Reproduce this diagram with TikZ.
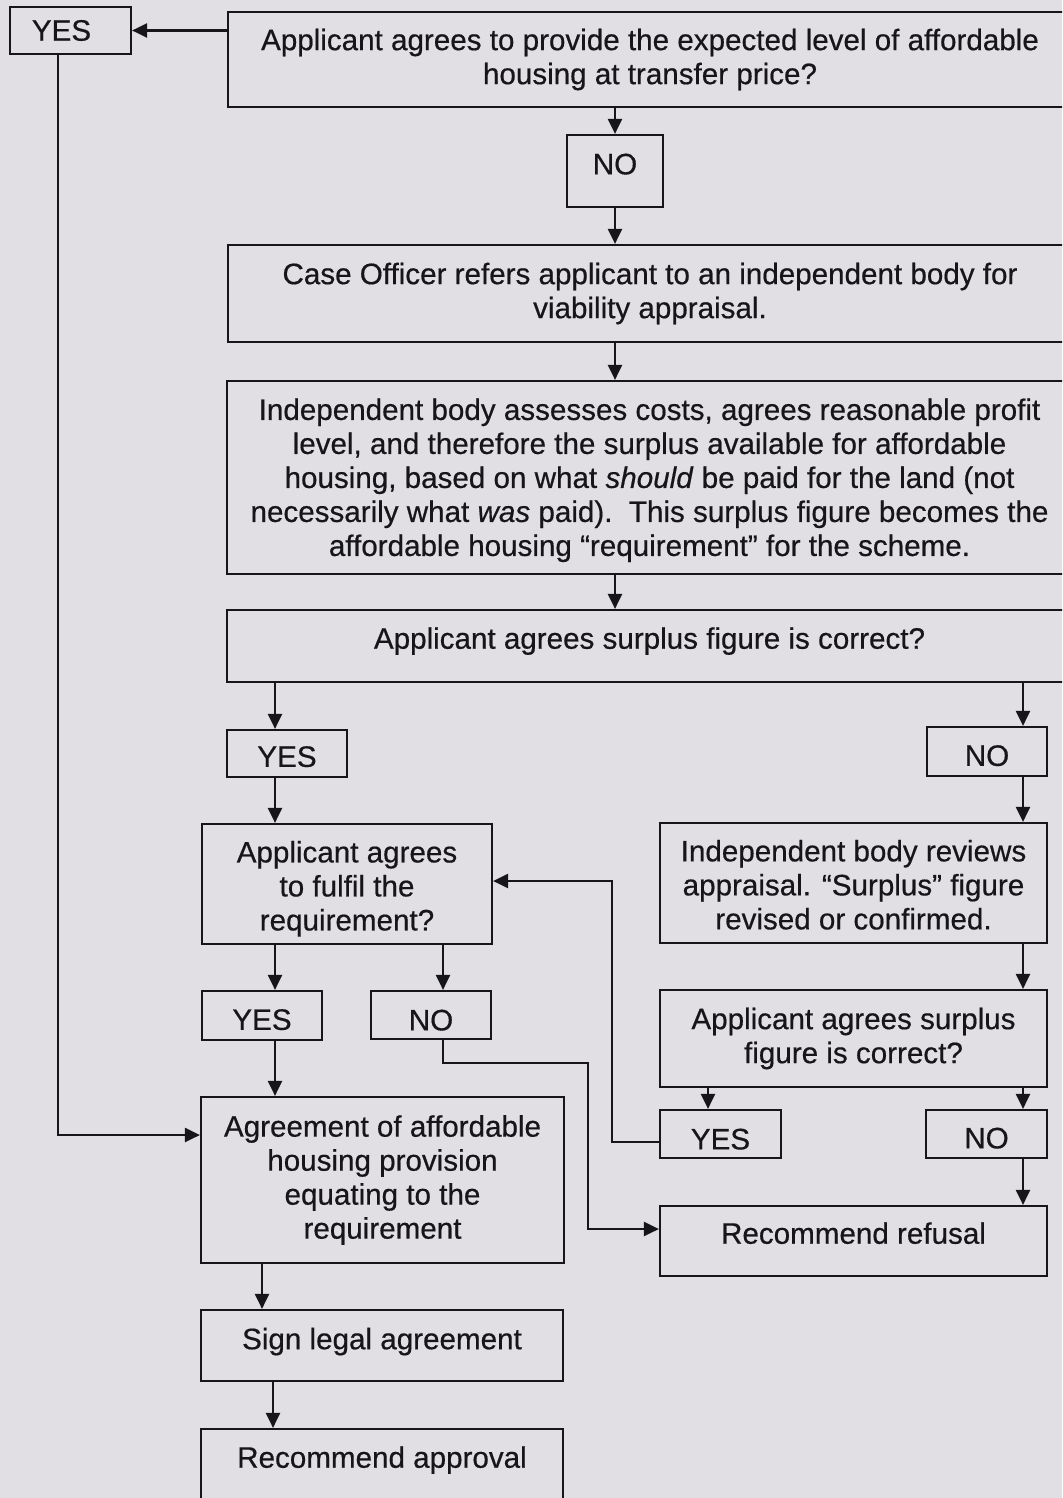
\documentclass[tikz,border=0pt]{standalone}
\usepackage{fontspec}
\setmainfont{Liberation Sans}[FakeBold=0.5]
\usetikzlibrary{arrows.meta}
\definecolor{bg}{RGB}{225,222,228}
\definecolor{ink}{RGB}{22,22,26}
\newcommand\tdn[1]{\rule{0pt}{#1}}
\newcommand\tup[1]{\rule[-#1]{0pt}{0pt}}
\begin{document}
\begin{tikzpicture}[x=1pt,y=-1pt,
  box/.style={draw=ink, line width=2.2pt, fill=bg, inner sep=0pt, align=center,
    text=ink, font=\fontsize{29.6}{34}\selectfont},
  arr/.style={draw=ink, line width=2.2pt, -{Triangle[length=15pt,width=14pt]}}]
\fill[bg] (0,0) rectangle (1062,1498);
\useasboundingbox (0,0) rectangle (1062,1498);
\begin{scope}
\clip (0,0) rectangle (1062,1498);
% nodes
\node[box, minimum width=121pt, minimum height=47pt] (yes0) at (70.5,30.5) {YES\hspace{18pt}};
\node[box, minimum width=844pt, minimum height=95pt] (top) at (650,59.5)
  {Applicant agrees to provide the expected level of affordable\\housing at transfer price?};
\node[box, minimum width=96pt, minimum height=72pt] (no1) at (615,171) {NO\tup{14pt}};
\node[box, minimum width=844pt, minimum height=97pt] (case) at (650,293.5)
  {Case Officer refers applicant to an independent body for\\viability appraisal.};
\node[box, minimum width=845pt, minimum height=193pt] (indep) at (649.5,477.5)
  {\tdn{27pt}Independent body assesses costs, agrees reasonable profit\\
   level, and therefore the surplus available for affordable\\
   housing, based on what \textit{should} be paid for the land (not\\
   necessarily what \textit{was} paid).\ \ This surplus figure becomes the\\
   affordable housing \textquotedblleft requirement\textquotedblright\ for the scheme.};
\node[box, minimum width=845pt, minimum height=72pt] (surp) at (649.5,646)
  {Applicant agrees surplus figure is correct?\tup{16pt}};
\node[box, minimum width=120pt, minimum height=47pt] (yes1) at (287,753.5) {\tdn{27pt}YES};
\node[box, minimum width=120pt, minimum height=49pt] (no2) at (987,751.5) {\tdn{29pt}NO};
\node[box, minimum width=290pt, minimum height=120pt] (fulfil) at (347,884)
  {\tdn{31pt}Applicant agrees\\to fulfil the\\requirement?};
\node[box, minimum width=387pt, minimum height=120pt] (review) at (853.5,883)
  {\tdn{25pt}Independent body reviews\\appraisal. \textquotedblleft Surplus\textquotedblright\ figure\\revised or confirmed.};
\node[box, minimum width=120pt, minimum height=49pt] (yes2) at (262,1015.5) {\tdn{29pt}YES};
\node[box, minimum width=120pt, minimum height=48pt] (no3) at (431,1015) {\tdn{31pt}NO};
\node[box, minimum width=387pt, minimum height=97pt] (surp2) at (853.5,1038.5)
  {Applicant agrees surplus\\figure is correct?};
\node[box, minimum width=121pt, minimum height=48pt] (yes3) at (720.5,1134) {\tdn{31pt}YES};
\node[box, minimum width=121pt, minimum height=48pt] (no4) at (986.5,1134) {\tdn{29pt}NO};
\node[box, minimum width=387pt, minimum height=70pt] (refuse) at (853.5,1241)
  {Recommend refusal\tup{16pt}};
\node[box, minimum width=363pt, minimum height=166pt] (agree) at (382.5,1180)
  {Agreement of affordable\\housing provision\\equating to the\\requirement};
\node[box, minimum width=362pt, minimum height=71pt] (sign) at (382,1345.5)
  {Sign legal agreement\tup{14pt}};
\node[box, minimum width=362pt, minimum height=90pt] (approve) at (382,1474)
  {Recommend approval\tup{34pt}};
% guide coordinates
\coordinate (xm) at (615,0);
\coordinate (xA) at (275,0);
\coordinate (xR) at (1023,0);
\coordinate (xN) at (443,0);
\coordinate (xY) at (708,0);
\coordinate (xS) at (262,0);
\coordinate (xT) at (273,0);
\coordinate (r1) at (612,1142);
\coordinate (r2) at (612,881);
\coordinate (s1) at (443,1063);
\coordinate (s2) at (588,1063);
\coordinate (s3) at (588,1229);
\coordinate (t1) at (58,1135);
% connectors
\draw[arr] (yes0.east -| top.west) -- (yes0.east);
\draw[arr] (top.south -| xm) -- (no1.north);
\draw[arr] (no1.south) -- (case.north -| xm);
\draw[arr] (case.south -| xm) -- (indep.north -| xm);
\draw[arr] (indep.south -| xm) -- (surp.north -| xm);
\draw[arr] (surp.south -| xA) -- (yes1.north -| xA);
\draw[arr] (surp.south -| xR) -- (no2.north -| xR);
\draw[arr] (yes1.south -| xA) -- (fulfil.north -| xA);
\draw[arr] (no2.south -| xR) -- (review.north -| xR);
\draw[arr] (fulfil.south -| xA) -- (yes2.north -| xA);
\draw[arr] (fulfil.south -| xN) -- (no3.north -| xN);
\draw[arr] (review.south -| xR) -- (surp2.north -| xR);
\draw[arr] (surp2.south -| xY) -- (yes3.north -| xY);
\draw[arr] (surp2.south -| xR) -- (no4.north -| xR);
\draw[arr] (yes3.west |- r1) -- (r1) -- (r2) -- (fulfil.east |- r2);
\draw[arr] (no3.south -| s1) -- (s1) -- (s2) -- (s3) -- (refuse.west |- s3);
\draw[arr] (no4.south -| xR) -- (refuse.north -| xR);
\draw[arr] (yes2.south -| xA) -- (agree.north -| xA);
\draw[arr] (yes0.south -| t1) -- (t1) -- (agree.west |- t1);
\draw[arr] (agree.south -| xS) -- (sign.north -| xS);
\draw[arr] (sign.south -| xT) -- (approve.north -| xT);
\end{scope}
\end{tikzpicture}
\end{document}
